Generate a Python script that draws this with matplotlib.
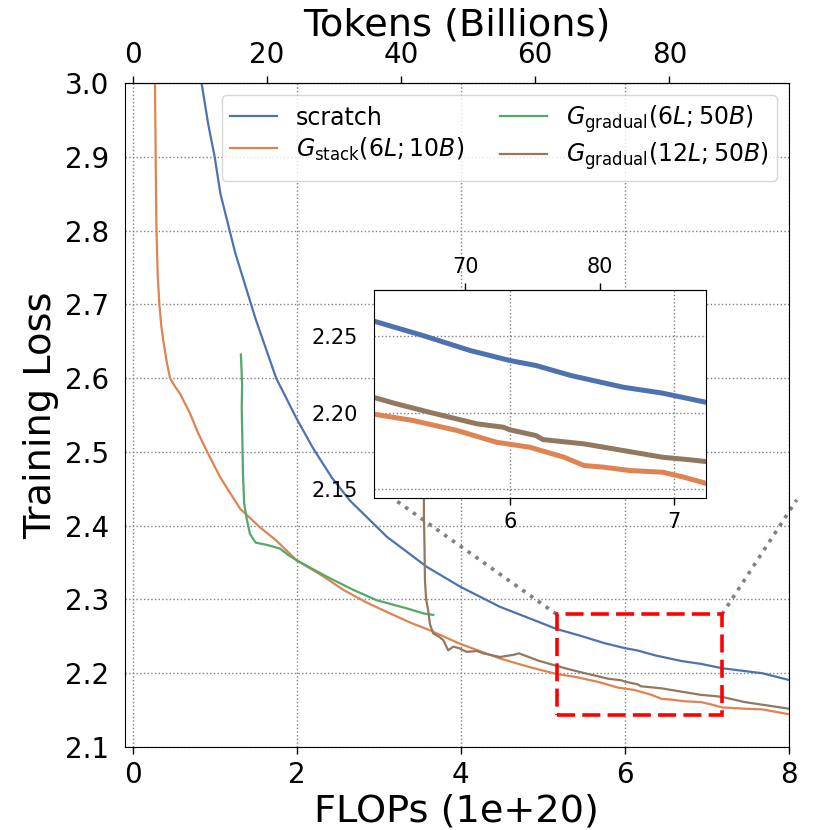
import matplotlib
matplotlib.use("Agg")
import matplotlib.pyplot as plt
from matplotlib.patches import Rectangle
from matplotlib.ticker import FormatStrFormatter

# FLOPs (1e+20) -> tokens (billions)
TOK_PER_FLOP = 12.22

scratch_x = [0.80, 0.84, 0.92, 1.0, 1.07, 1.25, 1.5, 1.75, 2.0, 2.2, 2.43, 2.65, 3.1, 3.59,
             4.0, 4.48, 4.85, 5.17, 5.47, 5.76, 6.0, 6.16, 6.37, 6.69, 6.93, 7.19, 7.46, 7.68, 8.0]
scratch_y = [3.05, 3.0, 2.945, 2.9, 2.85, 2.77, 2.68, 2.60, 2.545, 2.505, 2.465, 2.434, 2.385, 2.344,
             2.317, 2.29, 2.274, 2.260, 2.2505, 2.2406, 2.2341, 2.2308, 2.2243, 2.2166, 2.2127,
             2.2068, 2.203, 2.200, 2.191]

stack_x = [0.27, 0.272, 0.28, 0.29, 0.305, 0.325, 0.35, 0.373, 0.41, 0.455, 0.52, 0.577, 0.70,
           0.80, 0.90, 1.065, 1.31, 1.55, 1.75, 2.0, 2.3, 2.57, 2.85, 3.14, 3.4, 3.63, 3.99, 4.48,
           4.85, 5.17, 5.41, 5.68, 5.92, 6.12, 6.33, 6.45, 6.57, 6.73, 6.93, 7.06, 7.19, 7.45,
           7.68, 8.0]
stack_y = [3.12, 3.0, 2.9, 2.8, 2.74, 2.70, 2.67, 2.651, 2.625, 2.60, 2.588, 2.579, 2.552,
           2.525, 2.502, 2.466, 2.423, 2.398, 2.38, 2.353, 2.333, 2.313, 2.296, 2.281, 2.268,
           2.258, 2.24, 2.22, 2.208, 2.199, 2.1948, 2.1882, 2.1805, 2.1773, 2.1707, 2.1653,
           2.1642, 2.162, 2.1609, 2.1576, 2.1537, 2.152, 2.151, 2.1445]

grad6_x = [1.32, 1.335, 1.33, 1.337, 1.345, 1.36, 1.39, 1.43, 1.5, 1.634, 1.796, 1.9, 2.0,
           2.2, 2.366, 2.69, 2.975, 3.34, 3.55, 3.666]
grad6_y = [2.632, 2.59, 2.56, 2.52, 2.47, 2.43, 2.41, 2.389, 2.377, 2.374, 2.369, 2.36, 2.353,
           2.341, 2.331, 2.313, 2.299, 2.288, 2.281, 2.279]

grad12_x = [3.56, 3.555, 3.552, 3.56, 3.565, 3.58, 3.605, 3.625, 3.666, 3.73, 3.788, 3.849,
            3.91, 3.98, 4.073, 4.2, 4.276, 4.48, 4.65, 4.71, 4.95, 5.17, 5.31, 5.51, 5.80, 5.96,
            6.0, 6.16, 6.20, 6.45, 6.69, 6.93, 7.10, 7.19, 7.46, 8.0]
grad12_y = [2.65, 2.55, 2.416, 2.37, 2.326, 2.30, 2.285, 2.267, 2.254, 2.25, 2.245, 2.231,
            2.236, 2.234, 2.229, 2.23, 2.227, 2.222, 2.225, 2.227, 2.217, 2.210, 2.2057, 2.2002,
            2.1926, 2.1904, 2.1887, 2.1849, 2.1823, 2.1795, 2.1751, 2.1707, 2.169, 2.1679,
            2.161, 2.152]

labels = ["scratch",
          r"$G_{\mathrm{stack}}(6L;10B)$",
          r"$G_{\mathrm{gradual}}(6L;50B)$",
          r"$G_{\mathrm{gradual}}(12L;50B)$"]
colors = ["#4C72B0", "#DD8452", "#55A868", "#937860"]
series = [(scratch_x, scratch_y), (stack_x, stack_y), (grad6_x, grad6_y), (grad12_x, grad12_y)]

# zoom window
zoom_x = (5.17, 7.19)
zoom_y = (2.144, 2.28)

fig = plt.figure(figsize=(8.3, 8.3), dpi=100)
ax = fig.add_axes([0.15, 0.1, 0.8, 0.8])

for (xs, ys), lab, c in zip(series, labels, colors):
    ax.plot(xs, ys, color=c, lw=1.6, label=lab)

ax.set_xlim(-0.1, 8)
ax.set_ylim(2.1, 3.0)
ax.set_xticks([0, 2, 4, 6, 8])
ax.set_yticks([2.1, 2.2, 2.3, 2.4, 2.5, 2.6, 2.7, 2.8, 2.9, 3.0])
ax.yaxis.set_major_formatter(FormatStrFormatter("%.1f"))
ax.tick_params(axis="x", labelsize=20, length=5, width=1, pad=5)
ax.tick_params(axis="y", labelsize=20, length=0, pad=11)
ax.grid(True, linestyle=":", color="0.5", lw=1)
ax.set_xlabel("FLOPs (1e+20)", fontsize=27.5, labelpad=3)
ax.set_ylabel("Training Loss", fontsize=27.5)

top = ax.secondary_xaxis("top", functions=(lambda x: x * TOK_PER_FLOP, lambda t: t / TOK_PER_FLOP))
top.set_xticks([0, 20, 40, 60, 80])
top.tick_params(labelsize=20, length=5, width=1, pad=5)
top.set_xlabel("Tokens (Billions)", fontsize=27.5)

ax.legend(ncol=2, loc="upper right", fontsize=17, edgecolor="0.8",
          labelspacing=0.25, borderpad=0.35, columnspacing=1.5)

# red box and connectors
ax.add_patch(Rectangle((zoom_x[0], zoom_y[0]), zoom_x[1] - zoom_x[0], zoom_y[1] - zoom_y[0],
                       fill=False, edgecolor="red", lw=2.6, linestyle=(0, (5, 2)), zorder=5))
ax.plot([zoom_x[0], 3.2], [zoom_y[1], 2.435], color="gray", lw=2.6, linestyle=":", clip_on=False)
ax.plot([zoom_x[1], 8.1], [zoom_y[1], 2.435], color="gray", lw=2.6, linestyle=":", clip_on=False)

# inset
ins = fig.add_axes([0.45, 0.4, 0.4, 0.25])
for (xs, ys), c in zip(series, colors):
    ins.plot(xs, ys, color=c, lw=3.6)
ins.set_xlim(*zoom_x)
ins.set_ylim(*zoom_y)
ins.set_xticks([6, 7])
ins.set_yticks([2.15, 2.20, 2.25])
ins.yaxis.set_major_formatter(FormatStrFormatter("%.2f"))
ins.tick_params(axis="x", labelsize=15, length=5, width=1, pad=5)
ins.tick_params(axis="y", labelsize=15, length=0, pad=11)
ins.grid(True, linestyle=":", color="0.5", lw=1)
ins_top = ins.secondary_xaxis("top", functions=(lambda x: x * TOK_PER_FLOP, lambda t: t / TOK_PER_FLOP))
ins_top.set_xticks([70, 80])
ins_top.tick_params(labelsize=15, length=5, width=1, pad=5)

fig.savefig("out.png", dpi=100)
